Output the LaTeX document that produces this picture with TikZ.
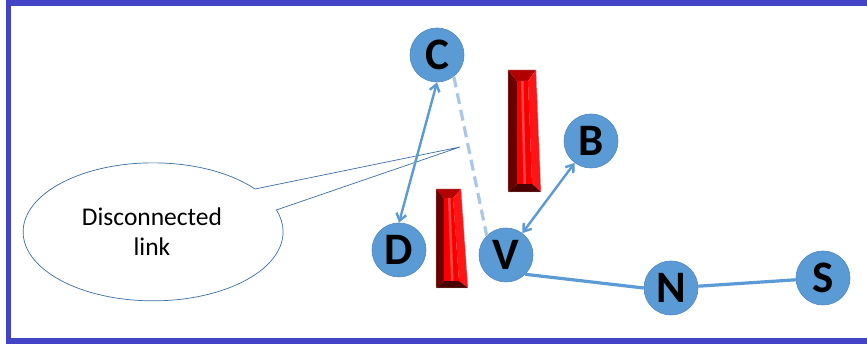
\documentclass[tikz,border=0pt]{standalone}
\usepackage{fontspec}
\setmainfont{Carlito}
\usetikzlibrary{arrows.meta}
\definecolor{nodeblue}{HTML}{5B9BD5}
\definecolor{nodeedge}{HTML}{4F88C0}
\definecolor{dashblue}{HTML}{A9C8E8}
\definecolor{framecol}{HTML}{4444C8}
\definecolor{calloutcol}{HTML}{3A6EA5}
\definecolor{rdark}{HTML}{6A0000}
\definecolor{rtop}{HTML}{B00000}
\definecolor{rbright}{HTML}{FF1515}
\definecolor{rbottom}{HTML}{4A0000}
\definecolor{rface}{HTML}{F80000}
\definecolor{rhigh}{HTML}{FF4545}
\tikzset{
  vertex/.style={circle, fill=nodeblue, draw=nodeedge, line width=0.6pt,
    minimum size=54pt, inner sep=0pt,
    font=\bfseries\fontsize{45}{45}\selectfont, text=black},
  dblarrow/.style={draw=nodeblue, line width=2.4pt,
    {Straight Barb[length=7pt,width=10pt]}-{Straight Barb[length=7pt,width=10pt]}},
  link/.style={draw=nodeblue, line width=3.2pt},
  brokenlink/.style={draw=dashblue, line width=3.2pt, dash pattern=on 11pt off 6pt},
  callout/.style={draw=calloutcol, line width=0.7pt, fill=white},
}
\begin{document}
\begin{tikzpicture}[x=1pt,y=1pt]
\useasboundingbox (0,0) rectangle (867,344);
\clip (0,0) rectangle (867,344);
\fill[white] (0,0) rectangle (867,344);
% frame
\draw[framecol, line width=5.5pt] (880,341) -- (8.5,341) -- (8.5,3) -- (880,3);

% callout
\coordinate (tip) at (460,197);
\coordinate (cp1) at (255,155);
\path[callout] (tip) -- (cp1)
  arc[start angle=38.4, end angle=378.5, x radius=130, y radius=69] -- cycle;
\node[font=\fontsize{25.5}{30}\selectfont, align=center] (txt) at (152,112) {Disconnected\\link};

% red bar 1
\fill[rdark]   (508,274) -- (517,263) -- (517,160) -- (508,152) -- cycle;
\fill[rtop]    (508,274) -- (536,274) -- (528,263) -- (517,263) -- cycle;
\fill[rbright] (536,274) -- (541,152) -- (532,160) -- (528,263) -- cycle;
\fill[rbottom] (508,152) -- (517,160) -- (532,160) -- (541,152) -- cycle;
\fill[rface]   (517,263) -- (528,263) -- (532,160) -- (517,160) -- cycle;
\fill[rhigh]   (521,263) -- (523.5,263) -- (526,160) -- (523.5,160) -- cycle;
\draw[gray!60, line width=0.4pt] (508,274) -- (536,274) -- (541,152) -- (508,152) -- cycle;

% red bar 2
\fill[rdark]   (436,155) -- (444,146) -- (444,63) -- (436,56) -- cycle;
\fill[rtop]    (436,155) -- (461,155) -- (453,146) -- (444,146) -- cycle;
\fill[rbright] (461,155) -- (468,56) -- (459,63) -- (453,146) -- cycle;
\fill[rbottom] (436,56) -- (444,63) -- (459,63) -- (468,56) -- cycle;
\fill[rface]   (444,146) -- (453,146) -- (459,63) -- (444,63) -- cycle;
\fill[rhigh]   (448,146) -- (450.5,146) -- (453.5,63) -- (451,63) -- cycle;
\draw[gray!60, line width=0.4pt] (436,155) -- (461,155) -- (468,56) -- (436,56) -- cycle;

% nodes
\node[vertex] (C) at (437,289) {C};
\node[vertex] (B) at (591,203) {B};
\node[vertex] (D) at (399,94) {D};
\node[vertex] (V) at (506,89) {V};
\node[vertex] (N) at (671,56) {N};
\node[vertex] (S) at (823,66) {S};

% edges
\draw[dblarrow] (C.south) -- (D.north);
\draw[dblarrow] (B) -- (V);
\draw[brokenlink] (C.-52) -- (V.135);
\draw[link] (V.-45) -- (N.180);
\draw[link] (N) -- (S);
\end{tikzpicture}
\end{document}
